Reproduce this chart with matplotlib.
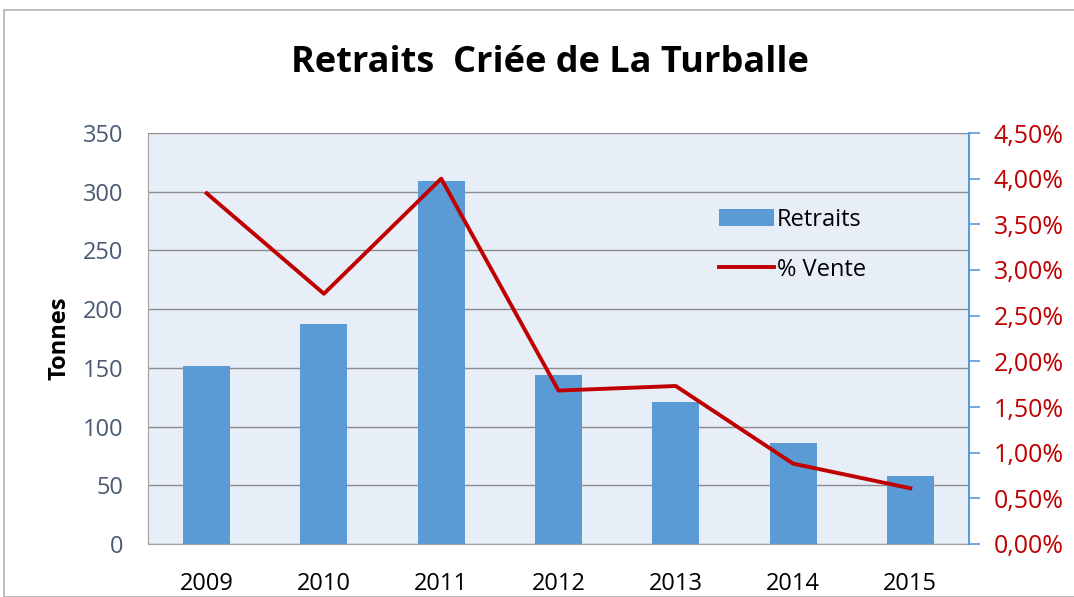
import numpy as np
import matplotlib.pyplot as plt
from matplotlib.patches import Rectangle
from matplotlib.ticker import FuncFormatter

# données
annees = ["2009", "2010", "2011", "2012", "2013", "2014", "2015"]
retraits = [152, 187, 309, 144, 121, 86, 58]          # tonnes
pct_vente = [3.84, 2.74, 4.00, 1.68, 1.73, 0.88, 0.61]  # %

plt.rcParams['font.family'] = ['Open Sans', 'DejaVu Sans']

fig = plt.figure(figsize=(10.74, 5.97), dpi=100)
fig.patches.append(Rectangle((4 / 1074, 0), 1.2, (597 - 10) / 597,
                             transform=fig.transFigure, fill=False,
                             edgecolor="#b0b0b0", linewidth=1.2))

ax = fig.add_axes([148 / 1074, 53 / 597, 821 / 1074, 411 / 597])
ax.set_facecolor("#e8eef8")
x = np.arange(len(annees))
ax.bar(x, retraits, width=0.40, color="#5b9bd5", label="Retraits", zorder=3)
ax.set_xlim(-0.5, len(annees) - 0.5)
ax.set_ylim(0, 350)
ax.set_yticks(range(0, 351, 50))
ax.yaxis.grid(True, color="#8c8c8c", linewidth=1.0, zorder=0)
ax.set_xticks(x)
ax.set_xticklabels(annees)
ax.tick_params(axis="x", length=0, pad=20, labelsize=17, labelcolor="black")
ax.tick_params(axis="y", length=0, pad=18, labelsize=17, labelcolor="#4a5a72")
for s in ["top", "right"]:
    ax.spines[s].set_visible(False)
ax.spines["left"].set_color("#a0a0a0")
ax.spines["bottom"].set_color("#a0a0a0")
ax.set_ylabel("Tonnes", fontsize=17, fontweight="bold", labelpad=8)

ax2 = ax.twinx()
ax2.plot(x, pct_vente, color="#c00000", linewidth=2.8, label="% Vente", zorder=4)
ax2.set_ylim(0, 4.5)
ax2.set_yticks(np.arange(0, 4.51, 0.5))
ax2.yaxis.set_major_formatter(FuncFormatter(lambda v, p: f"{v:.2f}%".replace(".", ",")))
ax2.tick_params(axis="y", direction="out", length=8, width=1.2, color="#5b9bd5",
                labelsize=18, labelcolor="#c00000", pad=10)
for s in ["top", "left", "bottom"]:
    ax2.spines[s].set_visible(False)
ax2.spines["right"].set_color("#5b9bd5")
ax2.spines["right"].set_linewidth(1.5)

h1, l1 = ax.get_legend_handles_labels()
h2, l2 = ax2.get_legend_handles_labels()
ax2.legend(h1 + h2, l1 + l2, loc="upper left", bbox_to_anchor=(0.67, 0.87),
           frameon=False, fontsize=17, handlelength=2.3, labelspacing=1.1,
           handletextpad=0.15)

fig.text(0.512, 0.895, "Retraits  Criée de La Turballe", ha="center", va="center",
         fontsize=26, fontweight="bold")

fig.savefig("out.png", dpi=100)
